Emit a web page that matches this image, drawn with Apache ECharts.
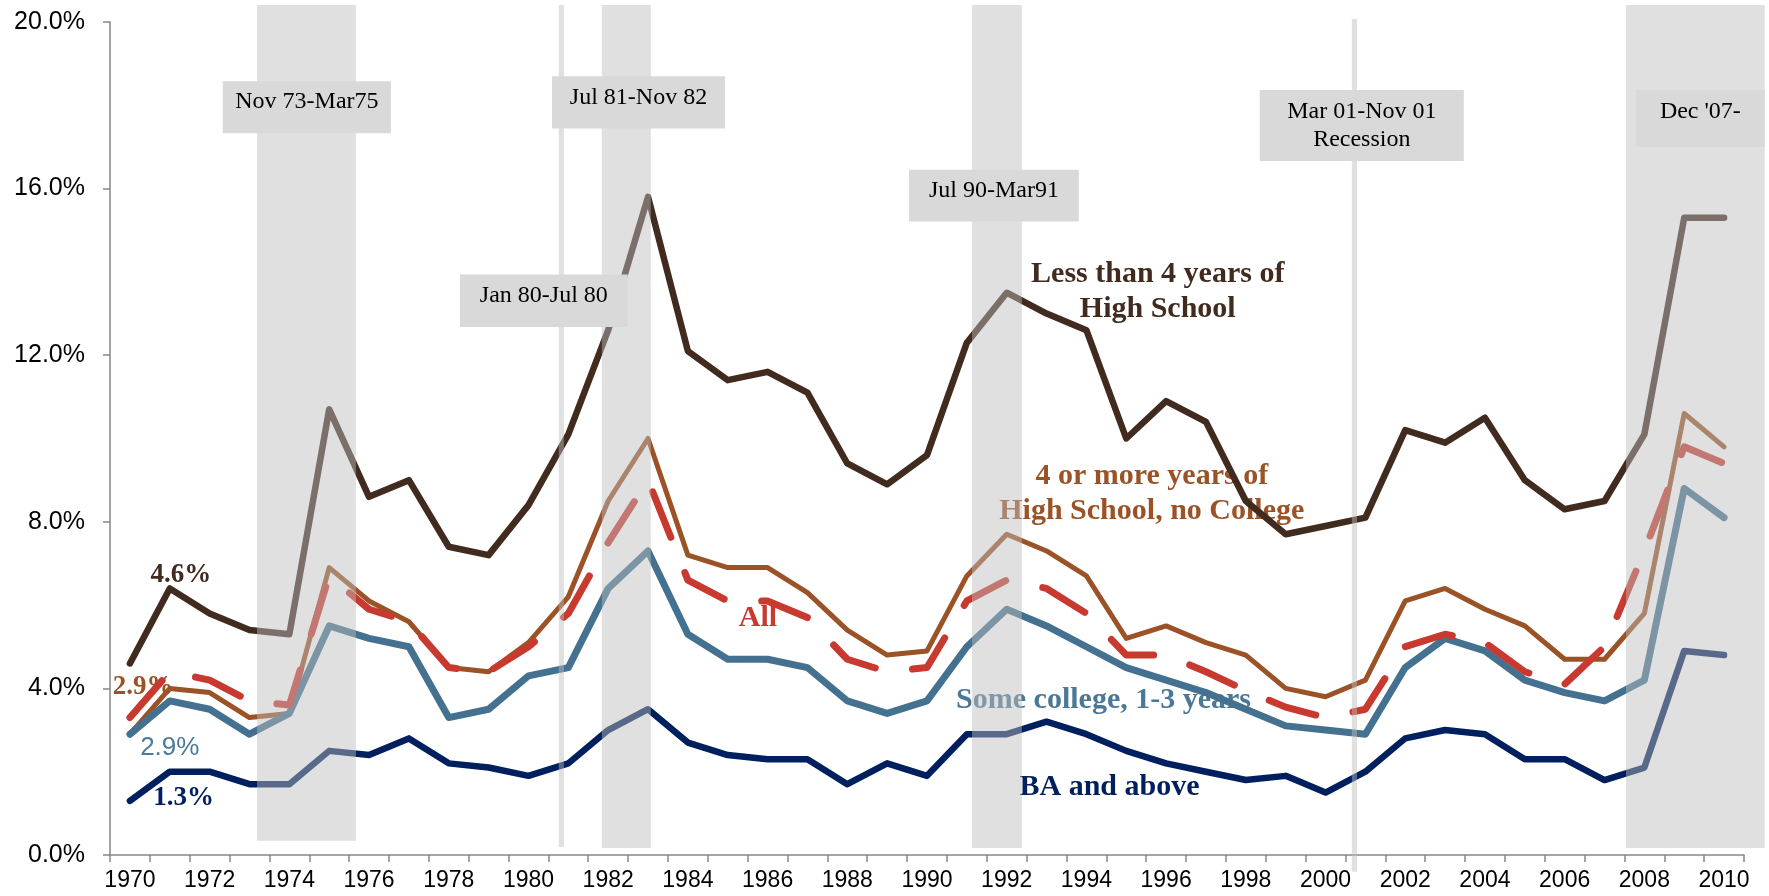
<!DOCTYPE html>
<html>
<head>
<meta charset="utf-8">
<title>Unemployment rate by education</title>
<script src="https://cdn.jsdelivr.net/npm/echarts@6/dist/echarts.min.js"></script>
<style>
  html, body { margin: 0; padding: 0; background: #ffffff; }
  #chart { width: 1769px; height: 896px; }
</style>
</head>
<body>
<div id="chart"></div>
<script>
// categories
const years = ['1970', '1971', '1972', '1973', '1974', '1975', '1976', '1977', '1978', '1979',
  '1980', '1981', '1982', '1983', '1984', '1985', '1986', '1987', '1988', '1989',
  '1990', '1991', '1992', '1993', '1994', '1995', '1996', '1997', '1998', '1999',
  '2000', '2001', '2002', '2003', '2004', '2005', '2006', '2007', '2008', '2009', '2010'];

// unemployment rate, %
const lessThanHS = [4.6, 6.4, 5.8, 5.4, 5.3, 10.7, 8.6, 9.0, 7.4, 7.2,
  8.4, 10.1, 12.6, 15.8, 12.1, 11.4, 11.6, 11.1, 9.4, 8.9,
  9.6, 12.3, 13.5, 13.0, 12.6, 10.0, 10.9, 10.4, 8.5, 7.7,
  7.9, 8.1, 10.2, 9.9, 10.5, 9.0, 8.3, 8.5, 10.1, 15.3, 15.3];
const hsNoCollege = [2.9, 4.0, 3.9, 3.3, 3.4, 6.9, 6.1, 5.6, 4.5, 4.4,
  5.1, 6.2, 8.5, 10.0, 7.2, 6.9, 6.9, 6.3, 5.4, 4.8,
  4.9, 6.7, 7.7, 7.3, 6.7, 5.2, 5.5, 5.1, 4.8, 4.0,
  3.8, 4.2, 6.1, 6.4, 5.9, 5.5, 4.7, 4.7, 5.8, 10.6, 9.8];
const allWorkers = [3.3, 4.4, 4.2, 3.7, 3.6, 6.7, 5.9, 5.6, 4.5, 4.4,
  5.0, 5.8, 7.5, 9.0, 6.6, 6.1, 6.1, 5.7, 4.7, 4.4,
  4.5, 6.1, 6.6, 6.4, 5.8, 4.8, 4.8, 4.4, 3.95, 3.55,
  3.3, 3.5, 5.0, 5.3, 5.1, 4.4, 4.1, 5.0, 7.3, 9.8, 9.4];
const someCollege = [2.9, 3.7, 3.5, 2.9, 3.4, 5.5, 5.2, 5.0, 3.3, 3.5,
  4.3, 4.5, 6.4, 7.3, 5.3, 4.7, 4.7, 4.5, 3.7, 3.4,
  3.7, 5.0, 5.9, 5.5, 5.0, 4.5, 4.2, 3.9, 3.5, 3.1,
  3.0, 2.9, 4.5, 5.2, 4.9, 4.2, 3.9, 3.7, 4.2, 8.8, 8.1];
const baAbove = [1.3, 2.0, 2.0, 1.7, 1.7, 2.5, 2.4, 2.8, 2.2, 2.1,
  1.9, 2.2, 3.0, 3.5, 2.7, 2.4, 2.3, 2.3, 1.7, 2.2,
  1.9, 2.9, 2.9, 3.2, 2.9, 2.5, 2.2, 2.0, 1.8, 1.9,
  1.5, 2.0, 2.8, 3.0, 2.9, 2.3, 2.3, 1.8, 2.1, 4.9, 4.8];

// recession periods on a continuous year scale (year value = centre of its category)
const recessions = [
  [1973.19, 1975.67],
  [1980.76, 1980.89],
  [1981.84, 1983.07],
  [1991.13, 1992.38],
  [2000.66, 2000.79],
  [2007.54, 2011.02]
];

const yTicks = [0, 4, 8, 12, 16, 20];

// ---- layout (not data) ----
const bandY = [[0.34, 20.41], [0.19, 20.41], [0.17, 20.41], [0.17, 20.41], [-0.40, 20.07], [0.17, 20.41]];

const recessionBoxes = [
  { text: 'Nov 73-Mar75', x0: 1972.33, x1: 1976.55, top: 18.58, bottom: 17.33, dy: -5 },
  { text: 'Jan 80-Jul 80', x0: 1978.28, x1: 1982.49, top: 13.94, bottom: 12.68, dy: -5 },
  { text: 'Jul 81-Nov 82', x0: 1980.59, x1: 1984.93, top: 18.70, bottom: 17.44, dy: -5 },
  { text: 'Jul 90-Mar91', x0: 1989.55, x1: 1993.81, top: 16.45, bottom: 15.21, dy: -5 },
  { text: 'Mar 01-Nov 01\nRecession', x0: 1998.35, x1: 2003.47, top: 18.37, bottom: 16.66, dy: 0 },
  { text: "Dec '07-", x0: 2007.79, x1: 2011.02, top: 18.37, bottom: 17.00, dy: -7 }
];

const C_DARK = '#412b1f';
const C_BROWN = '#9a5226';
const C_RED = '#c83a2f';
const C_BLUE = '#43718f';
const C_NAVY = '#001f5e';

const SERIF = '"Liberation Serif", "Times New Roman", serif';
const SANS = '"Liberation Sans", Arial, sans-serif';

const notes = [
  { text: '4.6%', x: 1971.28, y: 6.71, color: C_DARK, size: 27, bold: true, family: SERIF },
  { text: '2.9%', x: 1970.33, y: 4.03, color: C_BROWN, size: 27, bold: true, family: SERIF },
  { text: '2.9%', x: 1971.0, y: 2.58, color: '#4a7b9a', size: 26, bold: false, family: SANS },
  { text: '1.3%', x: 1971.35, y: 1.36, color: C_NAVY, size: 27, bold: true, family: SERIF },
  { text: 'Less than 4 years of\nHigh School', x: 1995.79, y: 13.52, color: C_DARK, size: 30, bold: true, family: SERIF },
  { text: '4 or more years of\nHigh School, no College', x: 1995.64, y: 8.67, color: C_BROWN, size: 30, bold: true, family: SERIF },
  { text: 'All', x: 1985.76, y: 5.69, color: C_RED, size: 30, bold: true, family: SERIF },
  { text: 'Some college, 1-3 years', x: 1994.43, y: 3.72, color: '#4a7896', size: 30, bold: true, family: SERIF },
  { text: 'BA and above', x: 1994.58, y: 1.62, color: C_NAVY, size: 30, bold: true, family: SERIF }
];

const chart = echarts.init(document.getElementById('chart'), null, { renderer: 'canvas' });

function lineSeries(name, data, color, width, dashed) {
  return {
    name: name,
    type: 'line',
    data: data,
    xAxisIndex: 0,
    yAxisIndex: 0,
    symbol: 'none',
    smooth: false,
    z: 2,
    silent: true,
    lineStyle: {
      color: color,
      width: width,
      type: dashed ? [49, 38] : 'solid',
      cap: 'round',
      join: 'round'
    }
  };
}

const option = {
  backgroundColor: '#ffffff',
  animation: false,
  grid: { left: 110, right: 25, top: 22, bottom: 41, containLabel: false },
  xAxis: [
    {
      type: 'category',
      data: years,
      boundaryGap: true,
      axisLine: { show: true, lineStyle: { color: '#868686', width: 1.5 } },
      axisTick: { show: true, interval: 0, length: 7, lineStyle: { color: '#868686', width: 1.5 } },
      axisLabel: { interval: 1, margin: 14, color: '#000', fontSize: 23, fontFamily: SANS },
      splitLine: { show: false }
    },
    {
      type: 'value',
      min: 1969.5,
      max: 2010.5,
      show: false,
      splitLine: { show: false }
    }
  ],
  yAxis: {
    type: 'value',
    min: yTicks[0],
    max: yTicks[yTicks.length - 1],
    interval: yTicks[1] - yTicks[0],
    axisLine: { show: true, lineStyle: { color: '#868686', width: 1.5 } },
    axisTick: { show: true, length: 7, lineStyle: { color: '#868686', width: 1.5 } },
    axisLabel: {
      margin: 25,
      color: '#000',
      fontSize: 25,
      fontFamily: SANS,
      formatter: function (v) { return v.toFixed(1) + '%'; }
    },
    splitLine: { show: false }
  },
  series: [
    // text notes sit under the lines
    {
      type: 'custom',
      xAxisIndex: 1,
      yAxisIndex: 0,
      z: 1,
      silent: true,
      clip: false,
      data: notes.map(function (n) { return [n.x, n.y]; }),
      encode: { x: 0, y: 1 },
      renderItem: function (params, api) {
        const n = notes[params.dataIndex];
        const p = api.coord([api.value(0), api.value(1)]);
        return {
          type: 'text',
          style: {
            text: n.text,
            x: p[0],
            y: p[1],
            align: 'center',
            verticalAlign: 'middle',
            fill: n.color,
            fontSize: n.size,
            fontWeight: n.bold ? 'bold' : 'normal',
            fontFamily: n.family,
            lineHeight: 35
          }
        };
      }
    },
    lineSeries('Less than 4 years of High School', lessThanHS, C_DARK, 6.5, false),
    lineSeries('4 or more years of High School, no College', hsNoCollege, C_BROWN, 5, false),
    lineSeries('Some college, 1-3 years', someCollege, C_BLUE, 7, false),
    lineSeries('BA and above', baAbove, C_NAVY, 6.5, false),
    lineSeries('All', allWorkers, C_RED, 7, true),
    // recession shading on top of the lines (semi transparent)
    {
      type: 'custom',
      xAxisIndex: 1,
      yAxisIndex: 0,
      z: 3,
      silent: true,
      clip: false,
      data: recessions.map(function (r, i) { return [r[0], r[1], bandY[i][0], bandY[i][1]]; }),
      encode: { x: [0, 1], y: [2, 3] },
      renderItem: function (params, api) {
        const p0 = api.coord([api.value(0), api.value(3)]);
        const p1 = api.coord([api.value(1), api.value(2)]);
        return {
          type: 'rect',
          shape: { x: p0[0], y: p0[1], width: p1[0] - p0[0], height: p1[1] - p0[1] },
          style: { fill: 'rgba(190,190,190,0.47)' }
        };
      }
    },
    // recession labels
    {
      type: 'custom',
      xAxisIndex: 1,
      yAxisIndex: 0,
      z: 4,
      silent: true,
      clip: false,
      data: recessionBoxes.map(function (b) { return [b.x0, b.x1, b.bottom, b.top]; }),
      encode: { x: [0, 1], y: [2, 3] },
      renderItem: function (params, api) {
        const b = recessionBoxes[params.dataIndex];
        const p0 = api.coord([api.value(0), api.value(3)]);
        const p1 = api.coord([api.value(1), api.value(2)]);
        return {
          type: 'group',
          children: [
            {
              type: 'rect',
              shape: { x: p0[0], y: p0[1], width: p1[0] - p0[0], height: p1[1] - p0[1] },
              style: { fill: '#d9d9d9' }
            },
            {
              type: 'text',
              style: {
                text: b.text,
                x: (p0[0] + p1[0]) / 2,
                y: (p0[1] + p1[1]) / 2 + b.dy,
                align: 'center',
                verticalAlign: 'middle',
                fill: '#000',
                fontSize: 24,
                fontFamily: SERIF,
                lineHeight: 28
              }
            }
          ]
        };
      }
    }
  ]
};

chart.setOption(option);
</script>
</body>
</html>
